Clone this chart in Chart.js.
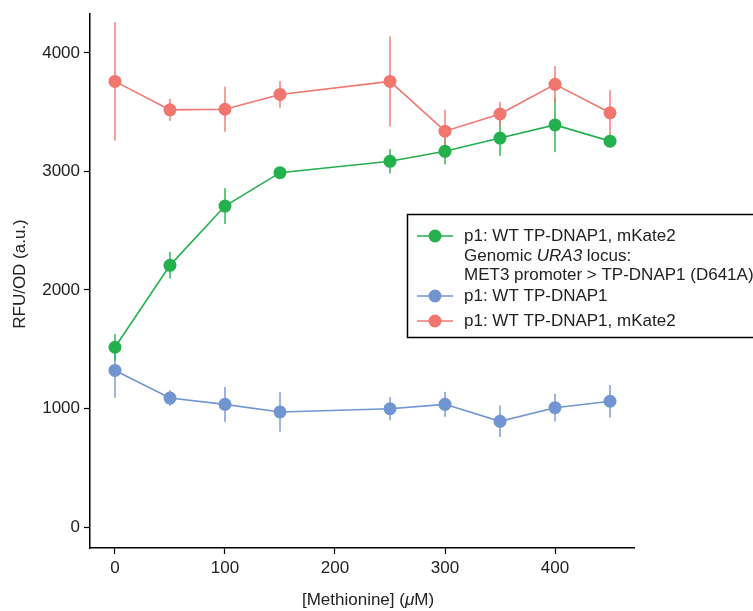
<!DOCTYPE html>
<html>
<head>
<meta charset="utf-8">
<script src="https://cdn.jsdelivr.net/npm/chart.js@4.4.1/dist/chart.umd.min.js"></script>
<style>
html,body{margin:0;padding:0;background:#fff;}
#wrap{width:753px;height:611px;position:relative;}
</style>
</head>
<body>
<div id="wrap"><canvas id="c" width="753" height="611"></canvas></div>
<script>
// ---- data ----
const methionine = [0, 50, 100, 150, 250, 300, 350, 400, 450];
const redMean  = [3760, 3520, 3525, 3650, 3760, 3340, 3485, 3735, 3495];
const redErr   = [500, 93, 190, 112, 380, 181, 101, 154, 190];
const greenMean = [1517, 2208, 2708, 2990, 3086, 3170, 3282, 3393, 3256];
const greenErr  = [112, 112, 151, 20, 103, 110, 150, 230, 20];
const blueMean = [1321, 1088, 1035, 971, 998, 1035, 892, 1007, 1061];
const blueErr  = [230, 66, 147, 167, 98, 105, 133, 116, 137];
const xTicks = [0, 100, 200, 300, 400];
const yTicks = [0, 1000, 2000, 3000, 4000];

const RED = 'rgb(240,118,110)';
const GREEN = 'rgb(36,176,76)';
const BLUE = 'rgb(112,149,208)';
const FONT = '"Liberation Sans", Arial, Helvetica, sans-serif';

function pts(means){ return methionine.map((x,i)=>({x:x,y:means[i]})); }

const errorBars = {
  id:'errorBars',
  beforeDatasetsDraw(chart){
    const ctx = chart.ctx, xs = chart.scales.x, ys = chart.scales.y;
    chart.data.datasets.forEach((ds)=>{
      ctx.save();
      ctx.strokeStyle = ds.borderColor;
      ctx.globalAlpha = 0.7;
      ctx.lineWidth = 2;
      ds.data.forEach((p,i)=>{
        const e = ds.err[i];
        const px = xs.getPixelForValue(p.x);
        ctx.beginPath();
        ctx.moveTo(px, ys.getPixelForValue(p.y + e));
        ctx.lineTo(px, ys.getPixelForValue(p.y - e));
        ctx.stroke();
      });
      ctx.restore();
    });
  }
};

const extras = {
  id:'extras',
  afterDraw(chart){
    const ctx = chart.ctx;
    const ca = chart.chartArea;
    ctx.save();
    // y title
    ctx.fillStyle = '#222';
    ctx.font = '17px ' + FONT;
    ctx.textAlign = 'center';
    ctx.textBaseline = 'middle';
    ctx.translate(20, 274);
    ctx.rotate(-Math.PI/2);
    ctx.fillText('RFU/OD (a.u.)', 0, 0);
    ctx.restore();

    // x title with italic mu
    ctx.save();
    ctx.fillStyle = '#222';
    ctx.textBaseline = 'middle';
    const parts = [['[Methionine] (', '17px '], ['\u03bc', 'italic 17px '], ['M)', '17px ']];
    let total = 0;
    parts.forEach(p=>{ ctx.font = p[1]+FONT; total += ctx.measureText(p[0]).width; });
    let x = (ca.left + ca.right)/2 - total/2 + 6;
    const y = 600;
    ctx.textAlign = 'left';
    parts.forEach(p=>{ ctx.font = p[1]+FONT; ctx.fillText(p[0], x, y); x += ctx.measureText(p[0]).width; });
    ctx.restore();

    // legend
    ctx.save();
    ctx.fillStyle = '#fff';
    ctx.strokeStyle = '#000';
    ctx.lineWidth = 1.5;
    ctx.fillRect(407, 214, 360, 124);
    ctx.strokeRect(407.5, 214.5, 360, 123);
    function sym(color, y){
      ctx.strokeStyle = color; ctx.lineWidth = 1.5;
      ctx.beginPath(); ctx.moveTo(417, y); ctx.lineTo(453, y); ctx.stroke();
      ctx.fillStyle = color;
      ctx.beginPath(); ctx.arc(435, y, 6.5, 0, Math.PI*2); ctx.fill();
    }
    sym(GREEN, 236); sym(BLUE, 296); sym(RED, 321);
    ctx.fillStyle = '#222';
    ctx.textBaseline = 'middle';
    ctx.textAlign = 'left';
    ctx.font = '17px ' + FONT;
    const tx = 464;
    ctx.fillText('p1: WT TP-DNAP1, mKate2', tx, 236);
    let gx = tx;
    ctx.fillText('Genomic ', gx, 256); gx += ctx.measureText('Genomic ').width;
    ctx.font = 'italic 17px ' + FONT;
    ctx.fillText('URA3', gx, 256); gx += ctx.measureText('URA3').width;
    ctx.font = '17px ' + FONT;
    ctx.fillText(' locus:', gx, 256);
    ctx.fillText('MET3 promoter > TP-DNAP1 (D641A)', tx, 275);
    ctx.fillText('p1: WT TP-DNAP1', tx, 296);
    ctx.fillText('p1: WT TP-DNAP1, mKate2', tx, 321);
    ctx.restore();
  }
};

const ds = (label, means, err, color) => ({
  label, data: pts(means), err,
  borderColor: color, backgroundColor: color,
  pointBackgroundColor: color, pointBorderColor: color,
  pointRadius: 6.5, pointHoverRadius: 6.5, pointBorderWidth: 0,
  borderWidth: 1.6, tension: 0, clip: false
});

new Chart(document.getElementById('c'), {
  type: 'line',
  data: { datasets: [
    ds('p1: WT TP-DNAP1', blueMean, blueErr, BLUE),
    ds('p1: WT TP-DNAP1, mKate2 + MET3>TP-DNAP1 (D641A)', greenMean, greenErr, GREEN),
    ds('p1: WT TP-DNAP1, mKate2', redMean, redErr, RED)
  ]},
  options: {
    responsive: false, animation: false,
    layout: { padding: { left: 0, right: 119, top: 12, bottom: 0 } },
    plugins: { legend: { display: false }, tooltip: { enabled: false } },
    scales: {
      x: {
        type: 'linear', min: -22.7, max: 471.8,
        afterFit(s){ s.height = 63; },
        afterBuildTicks(s){ s.ticks = xTicks.map(v=>({value:v})); },
        grid: { display: true, drawOnChartArea: false, drawTicks: true, tickLength: 6, color: '#000', tickWidth: 1.2 },
        border: { display: true, color: '#000', width: 1.5 },
        ticks: { color: '#222', font: { family: FONT, size: 17 }, padding: 4, maxRotation: 0,
                 callback: v => String(v) }
      },
      y: {
        type: 'linear', min: -177, max: 4327,
        afterFit(s){ s.width = 90; },
        afterBuildTicks(s){ s.ticks = yTicks.map(v=>({value:v})); },
        grid: { display: true, drawOnChartArea: false, drawTicks: true, tickLength: 6, color: '#000', tickWidth: 1.2 },
        border: { display: true, color: '#000', width: 1.5 },
        ticks: { color: '#222', font: { family: FONT, size: 17 }, padding: 4,
                 callback: v => String(v) }
      }
    }
  },
  plugins: [errorBars, extras]
});
</script>
</body>
</html>
